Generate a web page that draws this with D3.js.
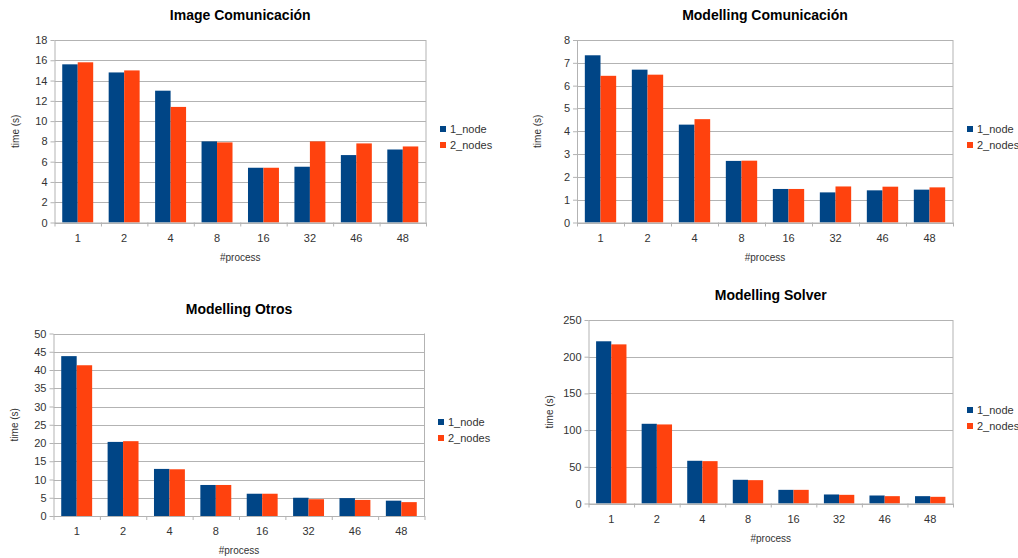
<!DOCTYPE html>
<html>
<head>
<meta charset="utf-8">
<script src="https://cdn.jsdelivr.net/npm/d3@7"></script>
<style>
    body { margin: 0; background: #fff; }
    svg { display: block; font-family: "Liberation Sans", Arial, sans-serif; }
</style>
</head>
<body>
<div id="chart"></div>
<script>
// categories on the x axis (#process)
const processes = ["1", "2", "4", "8", "16", "32", "46", "48"];
const seriesNames = ["1_node", "2_nodes"];
const seriesColors = ["#004586", "#ff420e"];

// values
const imageCom1 = [15.6, 14.8, 13.0, 8.0, 5.4, 5.5, 6.65, 7.2];
const imageCom2 = [15.8, 15.0, 11.4, 7.9, 5.4, 8.0, 7.8, 7.5];
const modCom1 = [7.33, 6.70, 4.29, 2.70, 1.47, 1.32, 1.41, 1.44];
const modCom2 = [6.43, 6.48, 4.53, 2.71, 1.47, 1.58, 1.57, 1.54];
const modOtros1 = [43.8, 20.3, 12.9, 8.5, 6.1, 5.0, 4.9, 4.2];
const modOtros2 = [41.3, 20.5, 12.8, 8.5, 6.1, 4.6, 4.4, 3.8];
const modSolver1 = [221, 108.6, 58.2, 32.3, 18.6, 12.3, 10.9, 10.0];
const modSolver2 = [216.8, 107.7, 57.7, 31.8, 18.6, 11.8, 10.0, 9.1];

const titles = ["Image Comunicación", "Modelling Comunicación", "Modelling Otros", "Modelling Solver"];
const yMax = [18, 8, 50, 250];
const yStep = [2, 1, 5, 50];

const svg = d3.select("#chart")
    .append("svg")
    .attr("width", 1018)
    .attr("height", 558);

// plot frame for each chart: left, top, right, bottom + legend position
const frames = [
    { l: 54.5, t: 40, r: 426, b: 222.5, lx: 440, ly: 129 },
    { l: 577, t: 40, r: 953, b: 222.5, lx: 967, ly: 129 },
    { l: 53.5, t: 333.5, r: 424.5, b: 516, lx: 438, ly: 422 },
    { l: 588.5, t: 320, r: 953, b: 503.5, lx: 967, ly: 410 }
];

const allSeries = [
    [imageCom1, imageCom2],
    [modCom1, modCom2],
    [modOtros1, modOtros2],
    [modSolver1, modSolver2]
];

function drawChart(i) {
    const f = frames[i];
    const g = svg.append("g");

    const x = d3.scaleBand()
        .domain(processes)
        .range([f.l, f.r])
        .paddingInner(1 / 3)
        .paddingOuter(1 / 6);
    const xSub = d3.scaleBand()
        .domain(seriesNames)
        .range([0, x.bandwidth()]);
    const y = d3.scaleLinear()
        .domain([0, yMax[i]])
        .range([f.b, f.t]);
    const ticks = d3.range(0, yMax[i] + yStep[i] / 2, yStep[i]);

    // gridlines
    g.append("g").selectAll("line")
        .data(ticks)
        .join("line")
        .attr("x1", f.l)
        .attr("x2", f.r)
        .attr("y1", d => Math.round(y(d)) + 0.5)
        .attr("y2", d => Math.round(y(d)) + 0.5)
        .attr("stroke", "#b3b3b3");
    // right border
    g.append("line")
        .attr("x1", f.r).attr("x2", f.r)
        .attr("y1", f.t).attr("y2", f.b)
        .attr("stroke", "#b3b3b3");

    // bars
    const rows = processes.map((p, k) => ({ p, vals: allSeries[i].map(s => s[k]) }));
    g.append("g").selectAll("g")
        .data(rows)
        .join("g")
        .attr("transform", d => `translate(${x(d.p)},0)`)
        .selectAll("rect")
        .data(d => d.vals.map((v, s) => ({ v, s })))
        .join("rect")
        .attr("x", d => xSub(seriesNames[d.s]))
        .attr("y", d => y(d.v))
        .attr("width", xSub.bandwidth())
        .attr("height", d => y(0) - y(d.v))
        .attr("fill", d => seriesColors[d.s]);

    // y axis
    const yAxis = g.append("g")
        .attr("transform", `translate(${f.l},0)`)
        .call(d3.axisLeft(y).tickValues(ticks).tickSize(4).tickPadding(3).tickSizeOuter(0));
    yAxis.select(".domain").attr("stroke", "#b3b3b3");
    yAxis.selectAll(".tick line").attr("stroke", "#b3b3b3");
    yAxis.selectAll("text").attr("fill", "#333").style("font-size", "11px");

    // x axis: ticks at category boundaries, labels at centres
    const xEdge = d3.scaleLinear().domain([0, processes.length]).range([f.l, f.r]);
    const xAxis = g.append("g")
        .attr("transform", `translate(0,${f.b})`)
        .call(d3.axisBottom(xEdge).ticks(processes.length).tickFormat("").tickSize(4).tickSizeOuter(0));
    xAxis.select(".domain").attr("stroke", "#b3b3b3");
    xAxis.selectAll(".tick line").attr("stroke", "#b3b3b3");
    g.append("g").selectAll("text")
        .data(processes)
        .join("text")
        .attr("x", d => x(d) + x.bandwidth() / 2)
        .attr("y", f.b + 19)
        .attr("text-anchor", "middle")
        .attr("fill", "#333")
        .style("font-size", "11px")
        .text(d => d);

    // titles
    g.append("text")
        .attr("x", (f.l + f.r) / 2)
        .attr("y", f.t - 20)
        .attr("text-anchor", "middle")
        .style("font-size", "14px")
        .style("font-weight", "bold")
        .attr("fill", "#000")
        .text(titles[i]);
    g.append("text")
        .attr("x", (f.l + f.r) / 2)
        .attr("y", f.b + 38)
        .attr("text-anchor", "middle")
        .style("font-size", "10px")
        .attr("fill", "#333")
        .text("#process");
    g.append("text")
        .attr("transform", `translate(${f.l - 36},${(f.t + f.b) / 2}) rotate(-90)`)
        .attr("text-anchor", "middle")
        .style("font-size", "10px")
        .attr("fill", "#333")
        .text("time (s)");

    // legend
    const leg = g.append("g").selectAll("g")
        .data(seriesNames)
        .join("g")
        .attr("transform", (d, k) => `translate(${f.lx},${f.ly + k * 16})`);
    leg.append("rect")
        .attr("x", 0).attr("y", -3)
        .attr("width", 6).attr("height", 6)
        .attr("fill", (d, k) => seriesColors[k]);
    leg.append("text")
        .attr("x", 10).attr("y", 4)
        .style("font-size", "11px")
        .attr("fill", "#333")
        .text(d => d);
}

titles.forEach((t, i) => drawChart(i));
</script>
</body>
</html>
